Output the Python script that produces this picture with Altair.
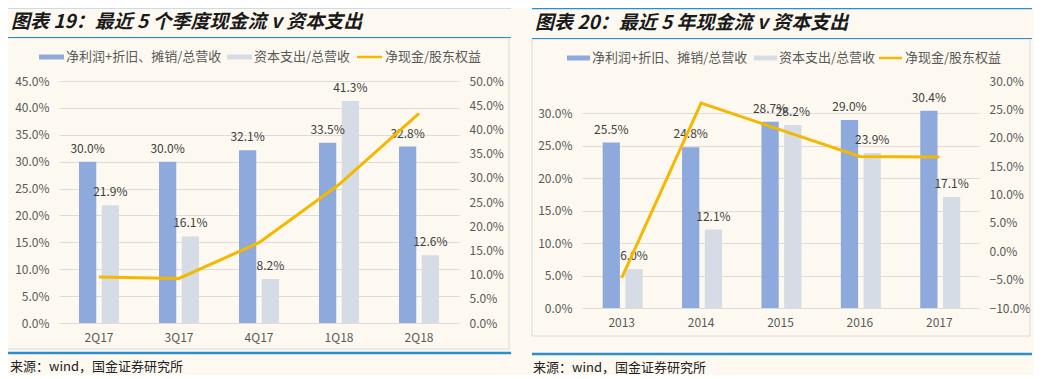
import altair as alt
import pandas as pd

# ---------------- data ----------------
q_cats = ["2Q17", "3Q17", "4Q17", "1Q18", "2Q18"]
q_profit = [0.300, 0.300, 0.321, 0.335, 0.328]
q_capex = [0.219, 0.161, 0.082, 0.413, 0.126]
q_cash = [0.095, 0.092, 0.166, 0.286, 0.433]

y_cats = ["2013", "2014", "2015", "2016", "2017"]
y_profit = [0.255, 0.248, 0.287, 0.290, 0.304]
y_capex = [0.060, 0.121, 0.282, 0.239, 0.171]
y_cash = [-0.047, 0.261, 0.214, 0.167, 0.166]

S1 = "净利润+折旧、摊销/总营收"
S2 = "资本支出/总营收"
S3 = "净现金/股东权益"

title_left = "图表 19：最近 5 个季度现金流 v 资本支出"
title_right = "图表 20：最近 5 年现金流 v 资本支出"
source_text = "来源：wind，国金证券研究所"

q_left_ticks = [i * 0.05 for i in range(10)]
q_right_ticks = [i * 0.05 for i in range(11)]
y_left_ticks = [i * 0.05 for i in range(8)]
y_right_ticks = [-0.10 + i * 0.05 for i in range(9)]

# ---------------- style ----------------
FONT = "Noto Sans CJK SC"
BLUE = "#8EA9DB"
GRAY = "#D6DCE5"
GOLD = "#F5B800"
RULE = "#2A8FCE"
BOX = "#DADADA"
GRID = "#DCDCDC"
LABEL = "#595959"
BG = "#FDF9F0"


def one():
    return alt.Data(values=[{"k": 1}])


def hrule(x1, x2, y, color, width):
    return alt.Chart(one()).mark_rule(color=color, strokeWidth=width).encode(
        x=alt.value(x1), x2=alt.value(x2), y=alt.value(y))


def rect(x1, x2, y1, y2, fill, stroke=None):
    kw = dict(fill=fill)
    if stroke:
        kw.update(stroke=stroke, strokeWidth=1)
    return alt.Chart(one()).mark_rect(**kw).encode(
        x=alt.value(x1), x2=alt.value(x2), y=alt.value(y1), y2=alt.value(y2))


def text(x, y, s, size=13, color=LABEL, weight="normal", style="normal"):
    return alt.Chart(one()).mark_text(
        align="left", baseline="middle", font=FONT, fontSize=size, color=color,
        fontWeight=weight, fontStyle=style, text=s).encode(
        x=alt.value(x), y=alt.value(y))


def panel(cats, profit, capex, cash, w, h, ldom, lvals, rdom, rvals,
          pin, pout, opad, geo):
    df = pd.DataFrame({
        "cat": cats * 2,
        "series": [S1] * len(cats) + [S2] * len(cats),
        "value": profit + capex,
    })
    ldf = pd.DataFrame({"cat": cats, "cash": cash})

    x = alt.X("cat:N", sort=cats, title=None,
              scale=alt.Scale(paddingInner=pin, paddingOuter=pout),
              axis=alt.Axis(labelAngle=0, ticks=False, domain=False, grid=False,
                            labelPadding=9, labelFontSize=12, labelColor=LABEL,
                            labelFont=FONT))
    xo = alt.XOffset("series:N", sort=[S1, S2],
                     scale=alt.Scale(paddingInner=opad, paddingOuter=0))
    color = alt.Color("series:N", scale=alt.Scale(domain=[S1, S2], range=[BLUE, GRAY]),
                      legend=None)
    yscale = alt.Scale(domain=ldom, nice=False, zero=False)
    yaxis = alt.Axis(values=lvals, format=".1%", ticks=False, domain=False,
                     grid=True, gridColor=GRID, labelPadding=10,
                     labelFontSize=12, labelColor=LABEL, labelFont=FONT)
    bars = alt.Chart(df).mark_bar().encode(
        x=x, xOffset=xo, color=color,
        y=alt.Y("value:Q", scale=yscale, title=None, axis=yaxis))
    labels = alt.Chart(df).mark_text(
        baseline="middle", dy=-13, fontSize=12, font=FONT, color="#404040").encode(
        x=x, xOffset=xo,
        y=alt.Y("value:Q", scale=yscale, title=None, axis=yaxis),
        text=alt.Text("value:Q", format=".1%"))
    line = alt.Chart(ldf).mark_line(color=GOLD, strokeWidth=3).encode(
        x=alt.X("cat:N", sort=cats),
        y=alt.Y("cash:Q", title=None, scale=alt.Scale(domain=rdom, nice=False, zero=False),
                axis=alt.Axis(orient="right", values=rvals, format=".1%", ticks=False,
                              domain=False, grid=False, labelPadding=10,
                              labelFontSize=12, labelColor=LABEL, labelFont=FONT)))
    data_layer = alt.layer(alt.layer(bars, labels), line).resolve_scale(y="independent")

    g = geo
    deco_back = alt.layer(
        rect(g["bx1"], g["bx2"], g["by1"], g["by2"], "transparent", BOX),
    )
    deco_front = alt.layer(
        hrule(g["lx1"], g["lx2"], g["top"], RULE, 2.5),
        text(g["tx"], g["ty"], g["title"], size=19, color="#1a1a1a",
             weight="bold", style="italic"),
        hrule(g["lx1"], g["lx2"], g["sub"], RULE, 1.2),
        rect(g["l1"], g["l1"] + g["lw"], g["ly"] - 2.5, g["ly"] + 2.5, BLUE),
        text(g["l1"] + g["lw"] + 2, g["ly"], S1),
        rect(g["l2"], g["l2"] + g["lw"], g["ly"] - 2.5, g["ly"] + 2.5, GRAY),
        text(g["l2"] + g["lw"] + 2, g["ly"], S2),
        hrule(g["l3"], g["l3"] + g["lw"], g["ly"], GOLD, 2.5),
        text(g["l3"] + g["lw"] + 3, g["ly"], S3),
        hrule(g["lx1"], g["lx2"], g["bot"], RULE, 2.5),
        text(g["sx"], g["sy"], source_text, size=13, color="#222222"),
    )
    return alt.layer(deco_back, data_layer, deco_front).properties(width=w, height=h)


left = panel(q_cats, q_profit, q_capex, q_cash, 400, 242,
             [0, 0.45], q_left_ticks, [0, 0.50], q_right_ticks,
             0.5, 0.25, 0.24,
             dict(bx1=-52, bx2=450, by1=-43, by2=268,
                  lx1=-52, lx2=452, top=-74, sub=-43.5, bot=272,
                  tx=-48, ty=-59, title=title_left,
                  l1=-20, l2=168, l3=298, lw=25, ly=-24,
                  sx=-49, sy=286))

right = panel(y_cats, y_profit, y_capex, y_cash, 397, 227,
              [0, 0.35], y_left_ticks, [-0.10, 0.30], y_right_ticks,
              0.52, 0.26, 0.0,
              dict(bx1=-50, bx2=448, by1=-42, by2=255,
                   lx1=-50, lx2=450, top=-73, sub=-42.5, bot=273,
                   tx=-47, ty=-58, title=title_right,
                   l1=-15, l2=172, l3=297, lw=23, ly=-23,
                   sx=-49, sy=287))

chart = alt.hconcat(left, right, spacing=123, bounds="flush").configure_view(
    stroke=None).properties(
    background=BG, padding={"left": -3, "top": -3, "right": 0, "bottom": 0})

chart.save("out.html", embed_options={"renderer": "svg", "actions": False})
